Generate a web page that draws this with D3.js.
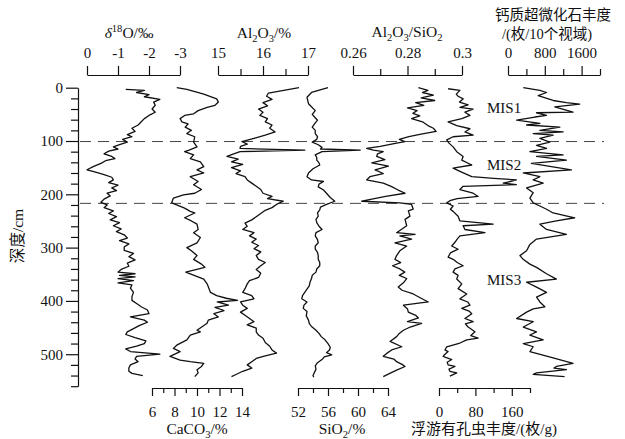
<!DOCTYPE html>
<html>
<head>
<meta charset="utf-8">
<script src="https://cdn.jsdelivr.net/npm/d3@7"></script>
<style>
  body { margin: 0; background: #fff; }
  text { fill: #111; }
</style>
</head>
<body>
<div id="chart"></div>
<script>
// Depth (cm) and proxy values
const d18oDepth = [3,5,9,13,17,22,27,33,40,46,52,58,64,70,76,82,88,92,97,102,107,111,115,119,124,129,133,137,142,148,154,158,163,168,173,178,183,188,193,198,203,209,215,220,225,231,236,242,248,253,259,265,270,276,282,287,293,299,305,311,317,323,329,335,341,346,349,352,355,358,362,366,370,376,384,392,399,405,411,417,424,430,436,440,446,452,458,463,469,475,480,485,490,495,500,504,509,514,520,526,532,536,540];
const d18oValue = [-1.25,-1.85,-1.6,-2.0,-1.85,-2.35,-2.15,-2.2,-2.1,-2.2,-2.0,-1.85,-1.75,-1.65,-1.45,-1.55,-1.3,-1.45,-1.15,-1.3,-1.05,-0.85,-1.0,-0.7,-0.55,-0.8,-0.9,-0.6,-0.45,-0.2,0.0,-0.25,-0.55,-0.8,-0.85,-0.7,-1.0,-0.8,-0.95,-0.65,-0.75,-0.55,-0.45,-0.65,-0.55,-0.85,-0.7,-0.95,-0.75,-1.05,-0.85,-1.1,-0.95,-1.2,-1.3,-1.05,-1.35,-1.2,-1.2,-1.5,-1.35,-1.55,-1.3,-1.35,-1.1,-1.0,-1.55,-1.05,-1.55,-1.0,-1.5,-1.0,-1.45,-1.4,-1.5,-1.45,-1.45,-1.6,-1.75,-1.95,-2.0,-1.4,-1.85,-1.95,-1.7,-1.5,-1.3,-1.25,-1.55,-1.9,-1.85,-1.6,-1.25,-1.4,-2.35,-1.6,-1.55,-1.65,-1.4,-1.35,-1.35,-1.45,-1.8];

const caco3Depth = [0,3,12,21,27,33,37,43,49,52,58,64,68,74,80,86,92,102,111,117,120,126,133,139,148,154,160,167,176,182,191,198,201,207,216,226,232,235,244,250,256,266,272,281,291,300,306,315,322,331,337,346,359,368,384,390,395,399,402,408,412,418,424,430,436,442,455,458,464,473,483,489,495,504,511,514,517,523,529,535,542];
const caco3Value = [8.2,9.1,10.6,11.75,11.9,11.6,10.9,10.1,9.7,8.9,8.5,8.65,9.2,8.95,9.5,9.1,9.8,9.7,10.0,9.3,8.9,9.7,9.4,10.3,10.6,10.0,10.6,9.4,10.1,9.7,10.4,9.8,8.8,7.9,7.75,8.9,9.4,9.8,8.9,9.5,10.0,10.1,9.7,10.3,10.0,9.1,9.5,10.0,9.7,10.4,10.7,9.0,10.6,10.9,11.2,11.75,12.6,13.6,11.8,12.8,11.6,12.4,11.5,11.9,11.0,10.9,10.0,10.3,9.4,9.1,8.2,7.9,8.5,7.6,8.5,9.4,10.6,10.4,10.0,10.1,9.8];

const al2o3Depth = [0,10,16,22,28,34,40,46,52,58,64,70,76,83,89,95,101,106,110,114,117,120,124,129,134,139,144,150,156,161,167,173,179,185,191,198,204,208,213,219,225,230,236,242,248,254,260,266,272,278,284,290,296,302,308,315,322,328,334,341,348,356,362,368,377,384,390,396,402,408,414,421,427,433,439,445,451,458,464,470,478,485,492,498,503,508,514,520,526,532,538,542];
const al2o3Value = [16.8,16.12,16.08,16.2,16.0,16.1,15.9,16.0,15.93,16.1,16.05,16.2,16.15,16.27,16.05,15.8,15.53,15.65,15.5,15.49,16.93,15.49,15.35,15.2,15.45,15.3,15.55,15.3,15.5,15.4,15.6,15.65,15.75,15.85,15.95,16.0,16.2,16.1,16.45,16.3,16.2,16.05,15.95,15.85,15.75,15.6,15.65,15.55,15.8,15.7,15.85,15.75,15.9,15.8,15.95,15.85,15.9,16.05,15.95,15.85,15.95,15.9,15.7,15.65,15.6,15.55,15.75,15.8,15.5,15.55,15.65,15.5,15.6,15.7,15.8,15.65,15.85,15.85,15.9,16.0,16.05,16.15,16.2,16.3,16.05,15.85,15.75,15.65,15.75,15.55,15.4,15.3];

const sio2Depth = [0,9,18,30,43,50,55,61,68,74,80,86,92,97,102,107,112,115,117,120,126,131,136,141,145,152,160,167,173,176,181,186,192,198,206,213,219,224,229,235,241,247,253,260,266,272,278,285,291,297,303,309,315,322,328,334,340,346,352,358,365,372,378,384,390,396,402,408,414,420,428,436,442,448,455,461,467,473,480,487,492,497,501,505,510,516,522,528,534,540,543];
const sio2Value = [56.0,53.8,53.2,53.4,54.3,53.9,54.2,54.6,54.2,53.9,54.3,54.3,54.6,54.5,53.9,54.7,55.2,55.0,60.3,55.2,54.3,54.5,54.5,54.8,54.9,54.0,53.4,53.2,53.8,55.4,54.8,54.7,55.4,55.8,56.3,56.9,55.8,55.0,54.9,54.6,54.7,54.4,54.5,54.8,55.2,54.4,54.3,54.6,54.7,54.3,54.3,54.6,54.7,54.7,54.9,54.9,54.5,54.4,53.9,53.8,53.6,53.5,53.2,52.9,52.6,52.5,53.2,52.8,52.7,53.2,53.1,53.4,53.5,53.8,54.4,54.8,55.1,55.6,56.0,56.3,56.2,55.8,56.5,55.5,55.2,54.6,54.3,54.4,54.2,54.0,54.1];

const ratioDepth = [0,5,9,14,19,24,28,33,38,43,48,53,58,64,71,76,82,87,92,97,101,104,110,114,117,120,124,129,135,141,147,154,161,167,173,179,185,192,198,204,213,216,219,228,231,241,247,259,272,275,278,284,291,297,306,315,322,328,334,340,346,352,358,366,374,380,387,395,402,408,415,421,427,432,439,442,449,455,461,467,476,486,492,498,504,509,514,519,523,530,536,542];
const ratioValue = [0.284,0.2875,0.2855,0.2895,0.285,0.29,0.283,0.286,0.28,0.2835,0.282,0.2845,0.2815,0.2855,0.2875,0.2895,0.2905,0.285,0.2805,0.277,0.279,0.276,0.27,0.265,0.2675,0.2711,0.269,0.2687,0.2717,0.2669,0.273,0.2681,0.2711,0.2662,0.265,0.2711,0.274,0.2766,0.2791,0.272,0.2632,0.2772,0.2815,0.2821,0.2803,0.2809,0.2791,0.2797,0.276,0.2828,0.2772,0.2815,0.2754,0.2797,0.2772,0.276,0.2754,0.2775,0.2745,0.2772,0.279,0.277,0.2797,0.2785,0.2766,0.278,0.2821,0.285,0.2876,0.2785,0.28,0.2803,0.283,0.284,0.28,0.2852,0.281,0.2785,0.277,0.276,0.2736,0.2779,0.2742,0.2725,0.2711,0.275,0.276,0.278,0.2791,0.276,0.2735,0.2711];

const foramDepth = [2,5,12,16,21,27,32,37,40,46,52,58,64,71,77,83,89,92,98,104,111,120,129,136,145,151,157,167,170,173,176,179,182,185,191,198,204,208,212,216,222,228,232,241,250,256,259,266,272,278,284,290,297,303,310,318,322,328,334,340,346,352,359,368,377,387,396,402,408,414,419,424,433,439,443,449,458,465,470,473,479,486,492,495,501,504,510,515,520,523,528,532,535,541];
const foramValue = [20,46,38,42,53,45,64,46,75,57,68,50,20,39,68,57,75,31,17,22,31,39,53,50,72,31,46,72,120,170,156,141,170,53,46,75,86,40,24,17,31,25,31,42,46,119,53,57,101,46,40,35,28,42,25,20,31,40,53,35,31,42,39,50,42,61,46,63,68,50,66,72,57,75,58,64,79,70,86,61,46,17,13,20,12,9,28,18,20,35,22,24,39,24];

const nannoDepth = [0,5,9,15,24,28,31,36,46,47,52,55,61,67,70,74,80,83,86,89,95,102,108,114,120,126,129,136,142,154,160,167,173,179,188,197,207,216,222,228,235,244,250,256,266,275,284,294,306,315,322,331,337,349,359,365,374,384,393,402,411,415,421,433,439,449,458,464,473,480,486,495,507,517,523,526,529,535,538,542];
const nannoValue = [332,693,837,657,981,1270,1558,1017,1414,620,837,584,188,693,404,1126,693,1198,548,981,693,909,620,837,476,1198,620,1270,510,1378,332,693,548,765,404,548,476,548,693,837,981,1450,1050,693,837,1270,620,476,404,260,330,476,620,837,1053,404,620,837,620,693,801,548,404,188,548,332,620,476,765,332,548,476,981,1414,1053,1000,1270,620,548,1230];

// Axis ticks and labels
const depthTicks = d3.range(0, 561, 20);
const depthLabels = [0, 100, 200, 300, 400, 500];
const d18oTicks = [0, -1, -2, -3];
const al2o3Ticks = [15, 15.5, 16, 16.5, 17];
const al2o3Labels = [15, 16, 17];
const ratioTicks = [0.26, 0.27, 0.28, 0.29, 0.3];
const ratioLabels = [0.26, 0.28, 0.3];
const nannoTicks = [0, 400, 800, 1200, 1600, 2000];
const nannoLabels = [0, 800, 1600];
const caco3Ticks = [6, 7, 8, 9, 10, 11, 12, 13, 14];
const caco3Labels = [6, 8, 10, 12, 14];
const sio2Ticks = [52, 54, 56, 58, 60, 62, 64];
const sio2Labels = [52, 56, 60, 64];
const foramTicks = [0, 40, 80, 120, 160, 200];
const foramLabels = [0, 80, 160];
const misBounds = [101, 217];
const misNames = [["MIS1", 39], ["MIS2", 145], ["MIS3", 360]];

const width = 625;
const height = 439;
const serif = "'Liberation Serif', 'Times New Roman', 'Noto Sans CJK SC', serif";
const topY = 75;
const bottomY = 388;

const svg = d3.select("#chart")
  .append("svg")
  .attr("width", width)
  .attr("height", height)
  .style("font-family", serif);

// Depth scale
const y = d3.scaleLinear().domain([0, 560]).range([87.7, 386.2]);

// Column scales
const d18oX = d3.scaleLinear().domain([0, -3]).range([87, 180]);
const al2o3X = d3.scaleLinear().domain([15, 17]).range([218, 308]);
const ratioX = d3.scaleLinear().domain([0.26, 0.3]).range([353, 462]);
const nannoX = d3.scaleLinear().domain([0, 2000]).range([508, 600]);
const caco3X = d3.scaleLinear().domain([6, 14]).range([152, 242]);
const sio2X = d3.scaleLinear().domain([52, 64]).range([298, 388]);
const foramX = d3.scaleLinear().domain([0, 200]).range([439, 530]);

const isLabel = (labels, d) => labels.some((l) => Math.abs(l - d) < 1e-9);

function styleAxis(g) {
  g.attr("font-size", 15).attr("font-family", serif);
  g.selectAll("path, line").attr("stroke", "#111").attr("stroke-width", 1.2);
  g.selectAll("text").attr("fill", "#111");
}

function topAxis(scale, ticks, labels) {
  const g = svg.append("g")
    .attr("transform", `translate(0, ${topY})`)
    .call(d3.axisTop(scale).tickValues(ticks).tickSize(9).tickSizeOuter(0)
      .tickFormat((d) => (isLabel(labels, d) ? String(d) : "")));
  styleAxis(g);
  g.selectAll(".tick line").attr("y2", (d) => (isLabel(labels, d) ? -9 : -6));
  g.selectAll(".tick text").attr("y", -17).attr("dy", null);
}

function bottomAxis(scale, ticks, labels) {
  const g = svg.append("g")
    .attr("transform", `translate(0, ${bottomY})`)
    .call(d3.axisBottom(scale).tickValues(ticks).tickSize(8).tickSizeOuter(0)
      .tickFormat((d) => (isLabel(labels, d) ? String(d) : "")));
  styleAxis(g);
  g.selectAll(".tick line").attr("y2", (d) => (isLabel(labels, d) ? 8 : 5));
  g.selectAll(".tick text").attr("y", 29).attr("dy", null);
}

// Text with sub/superscripts
function richText(x, yPos, parts, size) {
  const t = svg.append("text")
    .attr("x", x)
    .attr("y", yPos)
    .attr("text-anchor", "middle")
    .attr("font-size", size || 15.5);
  let shift = 0;
  parts.forEach(([s, k]) => {
    const target = k === "sub" ? 4 : k === "sup" ? -6 : 0;
    t.append("tspan")
      .attr("dy", target - shift)
      .attr("font-size", k === "sub" || k === "sup" ? "0.68em" : null)
      .attr("font-style", k === "it" ? "italic" : null)
      .text(s);
    shift = target;
  });
  return t;
}

// Depth axis
const yAxis = svg.append("g")
  .attr("transform", "translate(78, 0)")
  .call(d3.axisLeft(y).tickValues(depthTicks).tickSize(12).tickSizeOuter(0)
    .tickFormat((d) => (isLabel(depthLabels, d) ? String(d) : "")));
styleAxis(yAxis);
yAxis.selectAll(".tick line").attr("x2", (d) => (isLabel(depthLabels, d) ? -12 : -7));
yAxis.selectAll(".tick text").attr("x", -15);

svg.append("text")
  .attr("transform", "translate(23, 236) rotate(-90)")
  .attr("text-anchor", "middle")
  .attr("font-size", 15.5)
  .text("深度/cm");

// Proxy axes
topAxis(d18oX, d18oTicks, d18oTicks);
topAxis(al2o3X, al2o3Ticks, al2o3Labels);
topAxis(ratioX, ratioTicks, ratioLabels);
topAxis(nannoX, nannoTicks, nannoLabels);
bottomAxis(caco3X, caco3Ticks, caco3Labels);
bottomAxis(sio2X, sio2Ticks, sio2Labels);
bottomAxis(foramX, foramTicks, foramLabels);

// Axis titles
richText(129, 38, [["δ", "it"], ["18", "sup"], ["O/‰", null]]);
richText(264, 38, [["Al", null], ["2", "sub"], ["O", null], ["3", "sub"], ["/%", null]]);
richText(407, 37, [["Al", null], ["2", "sub"], ["O", null], ["3", "sub"], ["/SiO", null], ["2", "sub"]]);
richText(553, 20, [["钙质超微化石丰度", null]], 14.5);
richText(547, 39, [["/(枚/10个视域)", null]], 14.5);
richText(197, 434, [["CaCO", null], ["3", "sub"], ["/%", null]]);
richText(342, 434, [["SiO", null], ["2", "sub"], ["/%", null]]);
richText(484, 434, [["浮游有孔虫丰度/(枚/g)", null]], 15);

// MIS boundaries
svg.selectAll(".mis-line")
  .data(misBounds)
  .enter()
  .append("line")
  .attr("class", "mis-line")
  .attr("x1", 80)
  .attr("x2", 604)
  .attr("y1", (d) => y(d))
  .attr("y2", (d) => y(d))
  .attr("stroke", "#444")
  .attr("stroke-width", 1)
  .attr("stroke-dasharray", "11,7");

svg.selectAll(".mis-label")
  .data(misNames)
  .enter()
  .append("text")
  .attr("class", "mis-label")
  .attr("x", 487)
  .attr("y", (d) => y(d[1]) + 5)
  .attr("font-size", 15)
  .text((d) => d[0]);

// Curves
const line = d3.line();
function drawCurve(depths, values, xScale) {
  const pts = depths.map((d, i) => [xScale(values[i]), y(d)]);
  svg.append("path")
    .datum(pts)
    .attr("d", line)
    .attr("fill", "none")
    .attr("stroke", "#111")
    .attr("stroke-width", 1.3)
    .attr("stroke-linejoin", "round");
}

drawCurve(d18oDepth, d18oValue, d18oX);
drawCurve(caco3Depth, caco3Value, caco3X);
drawCurve(al2o3Depth, al2o3Value, al2o3X);
drawCurve(sio2Depth, sio2Value, sio2X);
drawCurve(ratioDepth, ratioValue, ratioX);
drawCurve(foramDepth, foramValue, foramX);
drawCurve(nannoDepth, nannoValue, nannoX);
</script>
</body>
</html>
